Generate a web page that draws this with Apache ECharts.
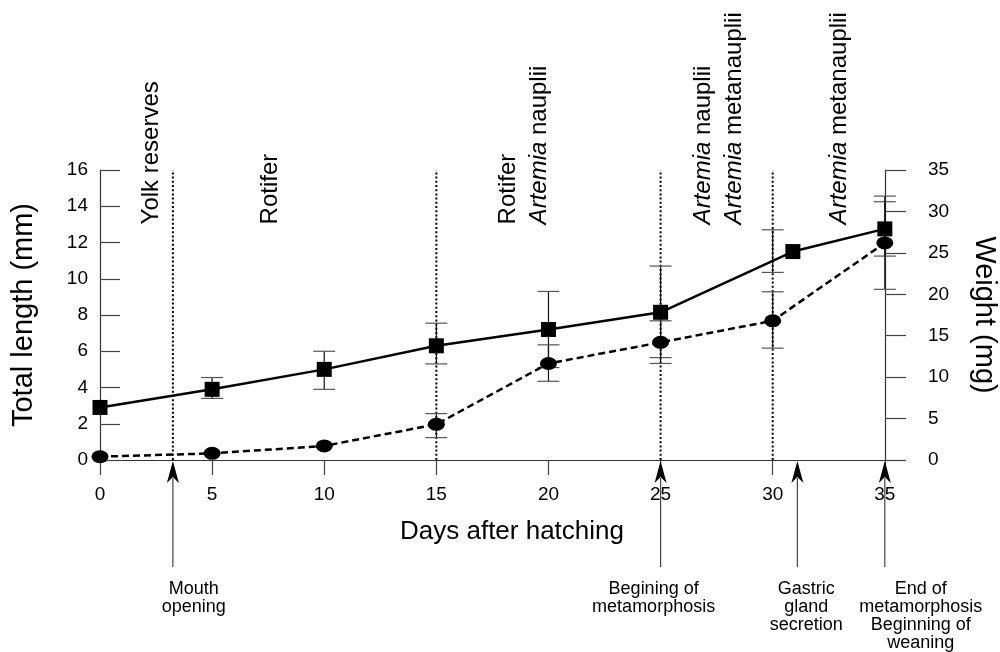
<!DOCTYPE html>
<html><head><meta charset="utf-8">
<script src="https://cdn.jsdelivr.net/npm/echarts@6/dist/echarts.min.js"></script>
<style>html,body{margin:0;padding:0;background:#fff}#c{width:1000px;height:652px}</style>
</head><body><div id="c"></div>
<script>
// ---- data ----
const lengthDays = [0, 5, 10, 15, 20, 25, 30.9, 35];
const lengthMm   = [2.9, 3.9, 5.0, 6.3, 7.2, 8.15, 11.5, 12.75];
const weightDays = [0, 5, 10, 15, 20, 25, 30, 35];
const weightMg   = [0.4, 0.8, 1.7, 4.3, 11.65, 14.2, 16.8, 26.2];
const lengthErrDays = [5, 10, 15, 20, 25, 30, 35];
const lengthLow  = [3.4, 3.9, 5.3, 5.1, 5.65, 10.35, 11.25];
const lengthHigh = [4.55, 6.0, 7.55, 9.3, 10.7, 12.7, 14.25];
const weightErrDays = [15, 20, 25, 30, 35];
const weightLow  = [2.7, 9.5, 11.65, 13.5, 20.6];
const weightHigh = [5.6, 13.9, 16.8, 20.3, 31.85];
const xTicks = [0, 5, 10, 15, 20, 25, 30, 35];
const phaseDays = [3.25, 15, 25, 30];
const dietLabels = ['Yolk reserves', 'Rotifer', 'Rotifer', '{i|Artemia} nauplii', '{i|Artemia} nauplii', '{i|Artemia} metanauplii', '{i|Artemia} metanauplii'];
const dietDays = [2.27, 7.62, 18.19, 19.6, 26.92, 28.29, 32.99];
const eventDays = [3.25, 25, 31.1, 35];
const eventLabels = ['Mouth\nopening', 'Begining of\nmetamorphosis', 'Gastric\ngland\nsecretion', 'End of\nmetamorphosis\nBeginning of\nweaning'];
const eventLabelDays = [4.18, 24.69, 31.5, 36.6];

const FONT = '"Liberation Sans", Arial, sans-serif';
const chart = echarts.init(document.getElementById('c'));

function errRender(params, api) {
  const x = api.value(0);
  const lo = api.coord([x, api.value(1)]);
  const hi = api.coord([x, api.value(2)]);
  const cap = 11;
  return {
    type: 'group',
    children: [
      { type: 'line', shape: { x1: lo[0], y1: lo[1], x2: hi[0], y2: hi[1] }, style: { stroke: '#111', lineWidth: 1.2 } },
      { type: 'line', shape: { x1: lo[0] - cap, y1: lo[1], x2: lo[0] + cap, y2: lo[1] }, style: { stroke: '#555', lineWidth: 1.2 } },
      { type: 'line', shape: { x1: hi[0] - cap, y1: hi[1], x2: hi[0] + cap, y2: hi[1] }, style: { stroke: '#555', lineWidth: 1.2 } }
    ]
  };
}

const option = {
  animation: false,
  backgroundColor: '#fff',
  grid: { left: 100, top: 170, width: 805, height: 290, containLabel: false, outerBoundsMode: 'none' },
  xAxis: {
    type: 'value', min: 0, max: 35.9,
    name: 'Days after hatching', nameLocation: 'middle', nameGap: 59,
    nameTextStyle: { fontFamily: FONT, fontSize: 26, color: '#000', padding: [0, 0, 0, 19] },
    axisLine: { show: true, onZero: false, lineStyle: { color: '#333', width: 1.2 } },
    axisTick: { show: true, inside: false, length: 15, customValues: xTicks, lineStyle: { color: '#444', width: 1.2 } },
    axisLabel: { customValues: xTicks, margin: 25, fontFamily: FONT, fontSize: 19, color: '#000' },
    splitLine: { show: false }
  },
  yAxis: [
    {
      type: 'value', min: 0, max: 16, interval: 2, position: 'left',
      name: 'Total length (mm)', nameLocation: 'middle', nameGap: 62, nameRotate: 90,
      nameTextStyle: { fontFamily: FONT, fontSize: 29, color: '#000' },
      axisLine: { show: true, lineStyle: { color: '#333', width: 1.2 } },
      axisTick: { show: true, inside: true, length: 20, lineStyle: { color: '#444', width: 1.2 } },
      axisLabel: { margin: 12, fontFamily: FONT, fontSize: 19, color: '#000' },
      splitLine: { show: false }
    },
    {
      type: 'value', min: 0, max: 35, interval: 5, position: 'right', offset: -20,
      name: 'Weight (mg)', nameLocation: 'middle', nameGap: 84, nameRotate: -90,
      nameTextStyle: { fontFamily: FONT, fontSize: 29, color: '#000' },
      axisLine: { show: true, lineStyle: { color: '#333', width: 1.2 } },
      axisTick: { show: true, inside: false, length: 21, lineStyle: { color: '#444', width: 1.2 } },
      axisLabel: { margin: 43, fontFamily: FONT, fontSize: 19, color: '#000' },
      splitLine: { show: false }
    }
  ],
  series: [
    {
      type: 'custom', name: 'phases', z: 1,
      data: phaseDays.map(d => [d, 0]),
      renderItem: (params, api) => {
        const d = api.value(0);
        const a = api.coord([d, 0]);
        const b = api.coord([d, 16]);
        return { type: 'line', shape: { x1: a[0], y1: a[1], x2: b[0], y2: b[1] },
          style: { stroke: '#000', lineWidth: 2, lineDash: [2, 2.2] } };
      }
    },
    {
      type: 'custom', name: 'lengthErr', z: 2, yAxisIndex: 0,
      data: lengthErrDays.map((d, i) => [d, lengthLow[i], lengthHigh[i]]),
      renderItem: errRender
    },
    {
      type: 'custom', name: 'weightErr', z: 2, yAxisIndex: 1,
      data: weightErrDays.map((d, i) => [d, weightLow[i], weightHigh[i]]),
      renderItem: errRender
    },
    {
      type: 'line', name: 'Total length', yAxisIndex: 0, z: 5,
      data: lengthDays.map((d, i) => [d, lengthMm[i]]),
      symbol: 'rect', symbolSize: 15, showAllSymbol: true,
      lineStyle: { color: '#000', width: 2.5 },
      itemStyle: { color: '#000' }
    },
    {
      type: 'line', name: 'Weight', yAxisIndex: 1, z: 5,
      data: weightDays.map((d, i) => [d, weightMg[i]]),
      symbol: 'circle', symbolSize: [17, 13], showAllSymbol: true,
      lineStyle: { color: '#000', width: 2.5, type: [7, 4] },
      itemStyle: { color: '#000' }
    },
    {
      type: 'custom', name: 'diet', z: 3,
      data: dietDays.map(d => [d, 13]),
      renderItem: (params, api) => {
        const p = api.coord([api.value(0), api.value(1)]);
        return { type: 'text', x: p[0], y: p[1], rotation: Math.PI / 2,
          style: { text: dietLabels[params.dataIndex], fontFamily: FONT, fontSize: 24, fill: '#000',
            align: 'left', verticalAlign: 'middle',
            rich: { i: { fontStyle: 'italic', fontFamily: FONT, fontSize: 24, fill: '#000' } } } };
      }
    },
    {
      type: 'custom', name: 'events', z: 3,
      data: eventDays.map(d => [d, 0]),
      renderItem: (params, api) => {
        const p = api.coord([api.value(0), 0]);
        const x = p[0], y = p[1];
        return { type: 'group', children: [
          { type: 'line', shape: { x1: x, y1: y + 18, x2: x, y2: y + 107 }, style: { stroke: '#444', lineWidth: 1.2 } },
          { type: 'polygon', shape: { points: [[x, y + 1], [x - 6, y + 23], [x, y + 17], [x + 6, y + 23]] }, style: { fill: '#000' } }
        ] };
      }
    },
    {
      type: 'custom', name: 'eventText', z: 3,
      data: eventLabelDays.map(d => [d, 0]),
      renderItem: (params, api) => {
        const p = api.coord([api.value(0), 0]);
        return { type: 'text', x: p[0], y: p[1] + 120,
          style: { text: eventLabels[params.dataIndex], fontFamily: FONT, fontSize: 18, lineHeight: 18,
            fill: '#000', align: 'center', verticalAlign: 'top' } };
      }
    }
  ]
};
chart.setOption(option);
</script>
</body></html>
